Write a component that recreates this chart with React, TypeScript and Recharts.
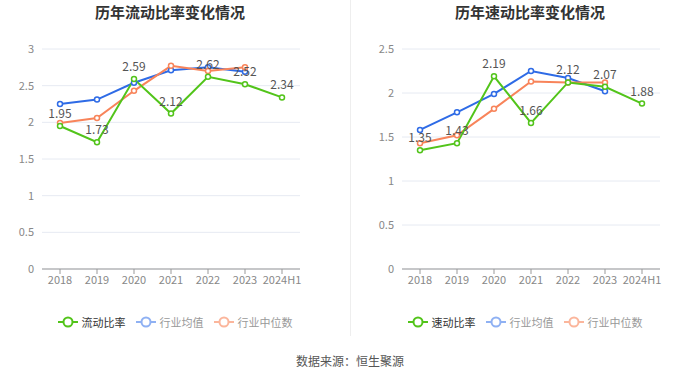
import { LineChart, Line, XAxis, YAxis, CartesianGrid, LabelList } from "recharts";

const years = ["2018", "2019", "2020", "2021", "2022", "2023", "2024H1"];

// 流动比率
const currentRatio = [1.95, 1.73, 2.59, 2.12, 2.62, 2.52, 2.34];
const currentIndustryAvg = [2.25, 2.31, 2.54, 2.71, 2.75, 2.69, null];
const currentIndustryMedian = [1.99, 2.06, 2.43, 2.77, 2.7, 2.75, null];
const currentTicks = [0, 0.5, 1, 1.5, 2, 2.5, 3];

// 速动比率
const quickRatio = [1.35, 1.43, 2.19, 1.66, 2.12, 2.07, 1.88];
const quickIndustryAvg = [1.58, 1.78, 1.99, 2.25, 2.17, 2.02, null];
const quickIndustryMedian = [1.43, 1.52, 1.82, 2.13, 2.12, 2.12, null];
const quickTicks = [0, 0.5, 1, 1.5, 2, 2.5];

const GREEN = "#52c41a";
const BLUE = "#2e6be6";
const ORANGE = "#f8845a";
const FONT = "'Noto Sans CJK SC', 'Noto Sans', sans-serif";

type PanelProps = {
  title: string;
  titleShift: number;
  name: string;
  main: number[];
  avg: (number | null)[];
  median: (number | null)[];
  ticks: number[];
  yWidth: number;
  rightMargin: number;
};

const Dot = (color: string) => ({ r: 2.5, fill: "#fff", stroke: color, strokeWidth: 1.5 });

function LegendIcon({ color }: { color: string }) {
  return (
    <svg width={20} height={12} style={{ marginRight: 4 }}>
      <line x1={0} y1={6} x2={20} y2={6} stroke={color} strokeWidth={2} />
      <circle cx={10} cy={6} r={4.5} fill="#fff" stroke={color} strokeWidth={2} />
    </svg>
  );
}

function Panel({ title, titleShift, name, main, avg, median, ticks, yWidth, rightMargin }: PanelProps) {
  const data = years.map((y, i) => ({
    year: y,
    main: main[i],
    avg: avg[i],
    median: median[i],
  }));
  const max = ticks[ticks.length - 1];

  const legend = [
    { label: name, color: GREEN, text: "#333" },
    { label: "行业均值", color: "#8fb1f3", text: "#999" },
    { label: "行业中位数", color: "#fbb69c", text: "#999" },
  ];

  return (
    <div style={{ position: "relative", width: 350, height: 340 }}>
      <div
        style={{
          position: "absolute",
          top: 1,
          left: titleShift,
          width: 350,
          textAlign: "center",
          fontSize: 15,
          fontWeight: "bold",
          color: "#333",
        }}
      >
        {title}
      </div>
      <LineChart
        width={350}
        height={300}
        data={data}
        margin={{ top: 49, right: rightMargin, bottom: 1, left: 0 }}
      >
        <CartesianGrid vertical={false} stroke="#e6eaf2" />
        <XAxis
          dataKey="year"
          tick={{ fontSize: 11, fill: "#888" }}
          tickLine={{ stroke: "#999" }}
          axisLine={{ stroke: "#999" }}
          height={30}
          interval={0}
          tickSize={5}
          padding={{ left: 18, right: 18 }}
        />
        <YAxis
          domain={[0, max]}
          ticks={ticks}
          width={yWidth}
          tick={{ fontSize: 11, fill: "#888" }}
          axisLine={false}
          tickLine={false}
          tickMargin={2}
        />
        <Line
          dataKey="avg"
          stroke={BLUE}
          strokeWidth={2}
          dot={Dot(BLUE)}
          isAnimationActive={false}
        />
        <Line
          dataKey="median"
          stroke={ORANGE}
          strokeWidth={2}
          dot={Dot(ORANGE)}
          isAnimationActive={false}
        />
        <Line
          dataKey="main"
          stroke={GREEN}
          strokeWidth={2}
          dot={Dot(GREEN)}
          isAnimationActive={false}
        >
          <LabelList dataKey="main" position="top" offset={8} fill="#555" fontSize={12} />
        </Line>
      </LineChart>
      <div
        style={{
          position: "absolute",
          top: 314,
          left: 0,
          width: 350,
          display: "flex",
          justifyContent: "center",
          alignItems: "center",
          fontSize: 11,
          gap: 10,
        }}
      >
        {legend.map((l) => (
          <div key={l.label} style={{ display: "flex", alignItems: "center", color: l.text }}>
            <LegendIcon color={l.color} />
            {l.label}
          </div>
        ))}
      </div>
    </div>
  );
}

export default function App() {
  return (
    <div
      style={{
        position: "absolute",
        left: 0,
        top: 0,
        width: 700,
        height: 378,
        background: "#fff",
        fontFamily: FONT,
      }}
    >
      <div style={{ display: "flex" }}>
        <Panel
          title="历年流动比率变化情况"
          titleShift={-5}
          name="流动比率"
          main={currentRatio}
          avg={currentIndustryAvg}
          median={currentIndustryMedian}
          ticks={currentTicks}
          yWidth={42}
          rightMargin={50}
        />
        <Panel
          title="历年速动比率变化情况"
          titleShift={5}
          name="速动比率"
          main={quickRatio}
          avg={quickIndustryAvg}
          median={quickIndustryMedian}
          ticks={quickTicks}
          yWidth={52}
          rightMargin={40}
        />
      </div>
      <div
        style={{
          position: "absolute",
          left: 350,
          top: 0,
          width: 1,
          height: 336,
          background: "#eee",
        }}
      />
      <div
        style={{
          position: "absolute",
          top: 352,
          left: 0,
          width: 700,
          textAlign: "center",
          fontSize: 12,
          color: "#555",
        }}
      >
        数据来源：恒生聚源
      </div>
    </div>
  );
}
